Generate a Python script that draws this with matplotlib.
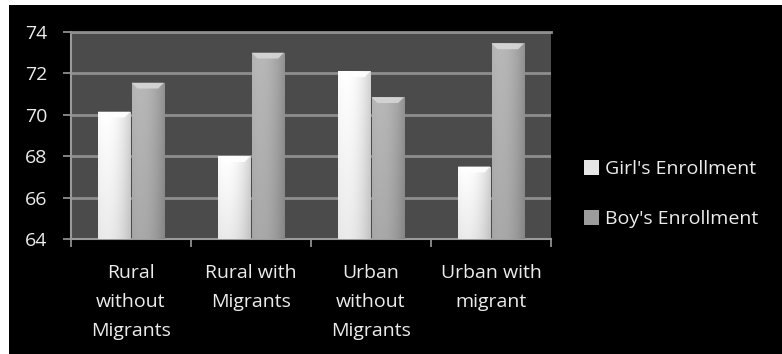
import numpy as np
import matplotlib
matplotlib.use("Agg")
import matplotlib.pyplot as plt
from matplotlib.patches import Polygon, Rectangle, Patch

plt.rcParams['font.family'] = ['Open Sans', 'DejaVu Sans']

# Enrollment by area type
categories = ["Rural\nwithout\nMigrants", "Rural with\nMigrants",
              "Urban\nwithout\nMigrants", "Urban with\nmigrant"]
girls = [70.15, 68.0, 72.1, 67.5]
boys = [71.55, 73.0, 70.85, 73.45]
series_names = ["Girl's Enrollment", "Boy's Enrollment"]
y_ticks = [64, 66, 68, 70, 72, 74]

fig = plt.figure(figsize=(7.82, 3.54), dpi=100, facecolor='black')
# white margin on top and left edge
fig.patches.append(Rectangle((0, 1 - 5 / 354), 1, 5 / 354, transform=fig.transFigure,
                             facecolor='white', edgecolor='none', zorder=-5))
fig.patches.append(Rectangle((0, 0), 9 / 782, 1, transform=fig.transFigure,
                             facecolor='white', edgecolor='none', zorder=-5))

ax = fig.add_axes([71 / 782, 1 - 239 / 354, 480 / 782, 207 / 354])
ax.set_facecolor('#4b4b4b')

x = np.arange(len(categories))
w = 0.27
ax.set_xlim(-0.5, len(categories) - 0.5)
ax.set_ylim(y_ticks[0], y_ticks[-1])


def shade(base_light, base_dark):
    # horizontal gradient light -> dark, for a cylinder-ish bar look
    t = np.linspace(0, 1, 64)
    prof = np.clip(1 - 1.6 * (t - 0.25) ** 2, 0, 1)
    vals = base_dark + (base_light - base_dark) * prof
    return np.tile(vals, (32, 1))


styles = [
    (girls, -w / 2 - 0.005, (1.0, 0.80), '#e6e6e6'),
    (boys, w / 2 + 0.005, (0.72, 0.55), '#9c9c9c'),
]
handles = []
for vals, off, (lt, dk), solid in styles:
    bars = ax.bar(x + off, vals, w, color=solid, edgecolor='none', zorder=3)
    y0 = ax.get_ylim()[0]
    for b in bars:
        bx, bw, top = b.get_x(), b.get_width(), b.get_height()
        img = shade(lt, dk)
        # darken towards the bottom slightly
        vert = np.linspace(0.92, 1.0, img.shape[0])[:, None]
        im = ax.imshow(img * vert, cmap='gray', vmin=0, vmax=1, aspect='auto',
                       extent=(bx, bx + bw, y0, top), origin='lower',
                       interpolation='bicubic', zorder=4)
        im.set_clip_path(b)
        # bevelled cap at the top of each bar
        h = 0.28
        d = bw * 0.18
        cap = Polygon([(bx, top), (bx + bw, top), (bx + bw - d, top - h), (bx + d, top - h)],
                      closed=True, facecolor=(min(1, lt + 0.12),) * 3, edgecolor='none',
                      alpha=0.9, zorder=5)
        ax.add_patch(cap)
    handles.append(Patch(facecolor=solid, edgecolor='none'))

ax.set_aspect('auto')
ax.set_xlim(-0.5, len(categories) - 0.5)
ax.set_ylim(y_ticks[0], y_ticks[-1])

ax.set_yticks(y_ticks)
ax.yaxis.grid(True, color='#8e8e8e', linewidth=2, zorder=1)
ax.set_axisbelow(True)
ax.set_xticks(x)
ax.set_xticklabels(categories, fontsize=14, color='#ececec', linespacing=1.78)
ax.tick_params(axis='x', length=0, pad=18)
ax.set_xticks(np.arange(len(categories) + 1) - 0.5, minor=True)
ax.tick_params(axis='x', which='minor', length=6, width=1.2, color='#9a9a9a', direction='out')
ax.tick_params(axis='y', labelsize=14, labelcolor='#ececec', length=6, width=1.2,
               color='#9a9a9a', pad=11)

for s in ['right']:
    ax.spines[s].set_visible(False)
ax.spines['top'].set_color('#8e8e8e')
ax.spines['top'].set_linewidth(2)
for s in ['left', 'bottom']:
    ax.spines[s].set_color('#9a9a9a')
    ax.spines[s].set_linewidth(1.5)

leg = fig.legend(handles, series_names, loc='center left',
                 bbox_to_anchor=(566 / 782, 1 - 194 / 354), frameon=False,
                 fontsize=14, labelcolor='#ececec', handlelength=0.8, handleheight=0.8,
                 handletextpad=0.3, labelspacing=1.65)

fig.savefig('out.png', dpi=100, facecolor='black')
